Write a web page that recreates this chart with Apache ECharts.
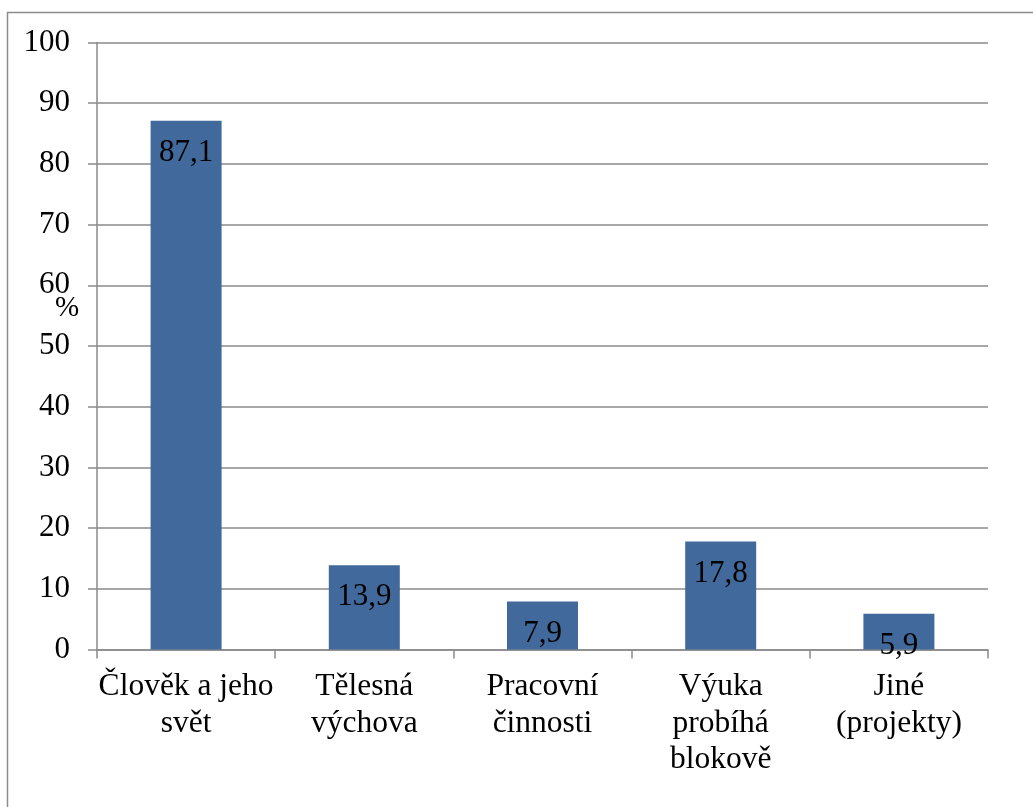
<!DOCTYPE html>
<html>
<head>
<meta charset="utf-8">
<script src="https://cdn.jsdelivr.net/npm/echarts@6/dist/echarts.min.js"></script>
<style>
  html, body { margin: 0; padding: 0; background: #fff; }
  #chart { width: 1033px; height: 807px; }
</style>
</head>
<body>
<div id="chart"></div>
<script>
// Subject areas and the share (%) of answers for each
const categories = [
  'Člověk a jeho\nsvět',
  'Tělesná\nvýchova',
  'Pracovní\nčinnosti',
  'Výuka\nprobíhá\nblokově',
  'Jiné\n(projekty)'
];
const shares = [87.1, 13.9, 7.9, 17.8, 5.9];
const yTicks = { min: 0, max: 100, step: 10 };
const unitLabel = '%';

const serif = '"Liberation Serif", "DejaVu Serif", serif';
const gridGray = '#8a8a8a';
const barBlue = '#41699b';

const chart = echarts.init(document.getElementById('chart'), null, { renderer: 'canvas' });

chart.setOption({
  backgroundColor: '#ffffff',
  animation: false,
  grid: { left: 97, right: 45, top: 42.5, bottom: 157.5, containLabel: false },
  graphic: [
    {
      type: 'rect',
      shape: { x: 7.5, y: 12.5, width: 1100, height: 900 },
      style: { fill: 'none', stroke: '#8c8c8c', lineWidth: 1.5 },
      silent: true,
      z: -1
    },
    {
      type: 'text',
      left: 55,
      top: 294,
      style: { text: unitLabel, font: '29px ' + serif, fill: '#000' },
      silent: true
    }
  ],
  xAxis: {
    type: 'category',
    data: categories,
    boundaryGap: true,
    axisLine: { show: true, lineStyle: { color: gridGray, width: 1.5 } },
    axisTick: { show: true, length: 9, alignWithLabel: false, lineStyle: { color: gridGray, width: 1.5 } },
    axisLabel: {
      interval: 0,
      margin: 19,
      color: '#000',
      fontFamily: serif,
      fontSize: 31.5,
      lineHeight: 36.5,
      align: 'center'
    },
    splitLine: { show: false }
  },
  yAxis: {
    type: 'value',
    min: yTicks.min,
    max: yTicks.max,
    interval: yTicks.step,
    axisLine: { show: true, lineStyle: { color: gridGray, width: 1.5 } },
    axisTick: { show: true, length: 9, lineStyle: { color: gridGray, width: 1.5 } },
    axisLabel: {
      margin: 27,
      color: '#000',
      fontFamily: serif,
      fontSize: 31
    },
    splitLine: { show: true, lineStyle: { color: gridGray, width: 1.5 } }
  },
  series: [
    {
      type: 'bar',
      data: shares,
      barWidth: 71,
      itemStyle: { color: barBlue },
      label: {
        show: true,
        position: ['50%', 32],
        align: 'center',
        verticalAlign: 'middle',
        color: '#000',
        fontFamily: serif,
        fontSize: 31,
        formatter: p => String(p.value).replace('.', ',')
      }
    }
  ]
});
</script>
</body>
</html>
